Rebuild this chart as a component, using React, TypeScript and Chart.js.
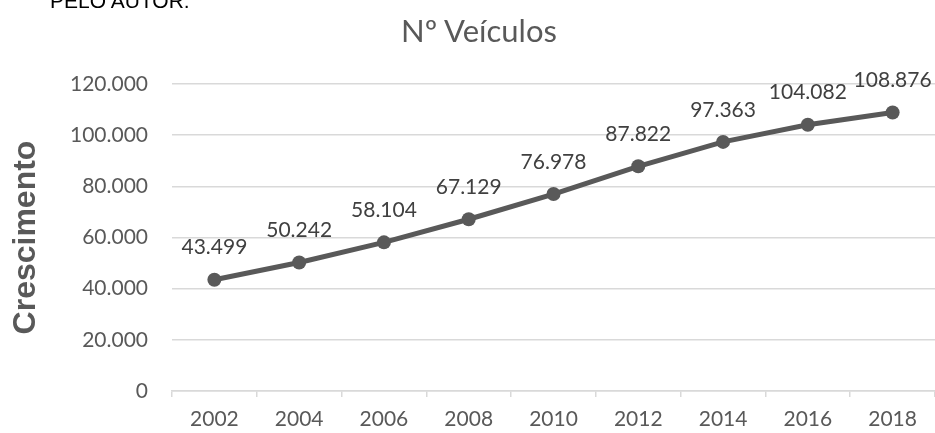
import React, { useEffect, useRef } from "react";
import { Chart, registerables } from "chart.js";

Chart.register(...registerables);

const categories = ["2002", "2004", "2006", "2008", "2010", "2012", "2014", "2016", "2018"];
const vehicles = [43499, 50242, 58104, 67129, 76978, 87822, 97363, 104082, 108876];
const chartTitle = "Nº Veículos";
const yTitle = "Crescimento";
const topNote = "PELO AUTOR.";

const fmt = (v: number) => v.toLocaleString("de-DE");

const dataLabels = {
  id: "dataLabels",
  afterDatasetsDraw(chart: any) {
    const ctx = chart.ctx;
    const meta = chart.getDatasetMeta(0);
    ctx.save();
    ctx.font = "21px Lato";
    ctx.fillStyle = "#404040";
    ctx.textAlign = "center";
    ctx.textBaseline = "middle";
    meta.data.forEach((pt: any, i: number) => {
      ctx.fillText(fmt(vehicles[i]), pt.x, pt.y - 32);
    });
    ctx.restore();
  },
};

export default function App() {
  const ref = useRef<HTMLCanvasElement>(null);
  useEffect(() => {
    document.body.style.margin = "0";
    const chart = new Chart(ref.current!, {
      type: "line",
      data: {
        labels: categories,
        datasets: [
          {
            data: vehicles,
            borderColor: "#595959",
            backgroundColor: "#595959",
            borderWidth: 5,
            pointRadius: 7,
            pointBorderWidth: 0,
            pointBackgroundColor: "#595959",
            tension: 0,
          },
        ],
      },
      options: {
        animation: false,
        responsive: false,
        layout: { autoPadding: false, padding: { top: 84, left: 0, right: 0, bottom: 0 } },
        plugins: {
          legend: { display: false },
          tooltip: { enabled: false },
          title: { display: false },
        },
        scales: {
          x: {
            offset: true,
            grid: {
              offset: true,
              drawOnChartArea: false,
              drawTicks: true,
              tickLength: 6,
              tickColor: "#d9d9d9",
              lineWidth: 1.5,
            },
            border: { display: true, color: "#d9d9d9", width: 1.5 },
            ticks: {
              color: "#595959",
              font: { family: "Lato", size: 21 },
              padding: 10,
              maxRotation: 0,
            },
            afterFit: (s: any) => {
              s.height = 42;
              s.paddingLeft = 0;
              s.paddingRight = 0;
            },
          },
          y: {
            min: 0,
            max: 120000,
            grid: { color: "#d9d9d9", lineWidth: 1.5, drawTicks: false },
            border: { display: false },
            ticks: {
              stepSize: 20000,
              color: "#595959",
              font: { family: "Lato", size: 21 },
              padding: 24,
              callback: (v: any) => fmt(Number(v)),
            },
            title: {
              display: true,
              text: yTitle,
              color: "#595959",
              font: { family: "Liberation Sans", size: 32, weight: "bold" },
              padding: { top: 7, bottom: 0 },
            },
            afterFit: (s: any) => {
              s.width = 172;
            },
          },
        },
      },
      plugins: [dataLabels],
    });
    return () => chart.destroy();
  }, []);
  return (
    <div style={{ position: "fixed", left: 0, top: 0, width: 935, height: 433, background: "#fff", overflow: "hidden" }}>
      <span
        style={{
          position: "absolute",
          left: 50,
          top: -10,
          font: "21px 'Liberation Sans'",
          lineHeight: "21px",
          color: "#000",
          whiteSpace: "nowrap",
        }}
      >
        {topNote}
      </span>
      <div
        style={{
          position: "absolute",
          left: 379,
          width: 200,
          top: 12,
          textAlign: "center",
          font: "31px Lato",
          lineHeight: "36px",
          color: "#595959",
          whiteSpace: "nowrap",
        }}
      >
        {chartTitle}
      </div>
      <canvas ref={ref} width={935} height={433} style={{ display: "block" }} />
    </div>
  );
}
